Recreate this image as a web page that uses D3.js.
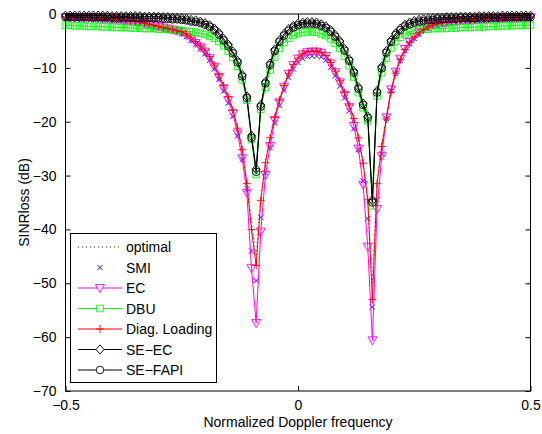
<!DOCTYPE html>
<html>
<head>
<meta charset="utf-8">
<script src="https://cdn.jsdelivr.net/npm/d3@7"></script>
<style>
    body { margin: 0; background: #fff; }
    text { font-family: "Liberation Sans", Arial, sans-serif; fill: #000; }
</style>
</head>
<body>
<svg id="chart" width="542" height="434"></svg>
<script>
// normalized Doppler sampling grid, -0.5 .. 0.5 step 0.01
const freq = d3.range(101).map(i => -0.5 + i * 0.01);

const optimal = [
  -0.5,-0.5,-0.5,-0.6,-0.6,-0.6,-0.7,-0.7,-0.8,-0.8,
  -0.9,-0.9,-1.0,-1.1,-1.2,-1.3,-1.4,-1.6,-1.8,-2.0,
  -2.2,-2.4,-2.6,-2.8,-3.0,-3.2,-3.6,-4.2,-5.0,-5.8,
  -6.6,-7.8,-9.4,-11.2,-13.2,-15.3,-17.7,-21.0,-25.0,-31.0,
  -39.0,-45.0,-34.0,-27.2,-22.8,-19.0,-15.8,-13.1,-10.8,-9.2,
  -8.0,-7.2,-6.8,-6.7,-6.7,-6.9,-7.5,-8.8,-10.4,-12.2,
  -14.4,-16.7,-19.2,-22.7,-27.3,-34.0,-50.0,-31.0,-24.2,-19.2,
  -14.3,-10.8,-8.3,-6.4,-5.1,-4.1,-3.3,-2.7,-2.2,-1.9,
  -1.7,-1.5,-1.4,-1.3,-1.2,-1.1,-1.0,-1.0,-0.9,-0.9,
  -0.8,-0.8,-0.7,-0.7,-0.7,-0.6,-0.6,-0.6,-0.5,-0.5,-0.5
];
const smi = [
  -0.8,-0.8,-0.8,-0.9,-0.9,-0.9,-1.0,-1.0,-1.1,-1.1,
  -1.2,-1.2,-1.3,-1.4,-1.5,-1.6,-1.7,-1.9,-2.1,-2.3,
  -2.5,-2.7,-2.9,-3.1,-3.4,-3.7,-4.2,-4.9,-5.7,-6.5,
  -7.4,-8.6,-10.2,-12.1,-14.3,-16.5,-19.0,-22.6,-27.0,-32.5,
  -44.0,-49.5,-37.8,-29.5,-24.8,-20.2,-17.0,-14.2,-11.8,-10.2,
  -9.0,-8.3,-7.9,-7.8,-7.8,-8.0,-8.6,-9.9,-11.5,-13.4,
  -15.6,-18.0,-21.3,-25.2,-31.0,-38.0,-54.4,-34.5,-26.0,-19.4,
  -14.3,-11.0,-8.6,-6.8,-5.5,-4.5,-3.7,-3.1,-2.6,-2.3,
  -2.1,-1.9,-1.8,-1.7,-1.6,-1.5,-1.4,-1.4,-1.3,-1.3,
  -1.2,-1.2,-1.1,-1.1,-1.1,-1.0,-1.0,-1.0,-0.9,-0.9,-0.9
];
const ec = [
  -0.6,-0.6,-0.6,-0.7,-0.7,-0.7,-0.8,-0.8,-0.9,-0.9,
  -1.0,-1.0,-1.1,-1.2,-1.3,-1.4,-1.5,-1.7,-1.9,-2.1,
  -2.3,-2.5,-2.7,-2.9,-3.1,-3.4,-3.9,-4.6,-5.4,-6.2,
  -7.0,-8.2,-9.8,-11.7,-13.8,-16.0,-18.5,-22.2,-26.8,-33.2,
  -47.2,-57.4,-40.4,-29.9,-24.5,-19.7,-16.4,-13.5,-11.1,-9.5,
  -8.3,-7.5,-7.1,-7.0,-7.0,-7.2,-7.8,-9.2,-10.8,-12.7,
  -15.0,-17.3,-20.8,-25.0,-31.7,-43.2,-60.6,-36.2,-26.4,-19.2,
  -14.0,-10.7,-8.3,-6.5,-5.2,-4.2,-3.4,-2.8,-2.3,-2.0,
  -1.8,-1.6,-1.5,-1.4,-1.3,-1.2,-1.1,-1.1,-1.0,-1.0,
  -0.9,-0.9,-0.8,-0.8,-0.8,-0.7,-0.7,-0.7,-0.6,-0.6,-0.6
];
const dbu = [
  -2.1,-2.1,-2.2,-2.2,-2.2,-2.3,-2.3,-2.3,-2.4,-2.4,
  -2.4,-2.5,-2.5,-2.5,-2.6,-2.6,-2.6,-2.7,-2.7,-2.7,
  -2.8,-2.8,-2.9,-2.9,-3.0,-3.1,-3.2,-3.3,-3.4,-3.6,
  -3.8,-4.1,-4.5,-5.1,-5.9,-6.9,-8.1,-9.7,-12.2,-16.0,
  -23.3,-29.8,-17.7,-13.6,-10.4,-8.0,-6.4,-5.3,-4.5,-3.9,
  -3.6,-3.4,-3.3,-3.3,-3.4,-3.7,-4.0,-4.6,-5.4,-6.4,
  -7.8,-9.6,-11.7,-14.6,-17.4,-19.8,-35.6,-15.2,-10.9,-8.2,
  -6.3,-5.1,-4.3,-3.7,-3.3,-3.1,-2.9,-2.8,-2.8,-2.7,
  -2.7,-2.7,-2.6,-2.6,-2.6,-2.5,-2.5,-2.5,-2.4,-2.4,
  -2.4,-2.3,-2.3,-2.3,-2.2,-2.2,-2.2,-2.1,-2.1,-2.1,-2.1
];
const diagLoading = [
  -0.6,-0.6,-0.6,-0.7,-0.7,-0.7,-0.8,-0.8,-0.9,-0.9,
  -1.0,-1.0,-1.1,-1.2,-1.3,-1.4,-1.5,-1.7,-1.9,-2.1,
  -2.3,-2.5,-2.7,-2.9,-3.1,-3.3,-3.7,-4.3,-5.1,-5.9,
  -6.7,-7.9,-9.5,-11.3,-13.3,-15.4,-17.8,-21.2,-25.2,-31.5,
  -40.0,-46.7,-34.6,-27.6,-23.0,-19.2,-16.0,-13.3,-11.0,-9.4,
  -8.2,-7.4,-7.0,-6.9,-6.9,-7.1,-7.7,-9.0,-10.6,-12.4,
  -14.6,-16.9,-19.4,-23.0,-27.7,-34.5,-53.0,-31.5,-24.6,-19.5,
  -14.5,-11.0,-8.5,-6.6,-5.3,-4.3,-3.5,-2.9,-2.4,-2.1,
  -1.8,-1.6,-1.5,-1.4,-1.3,-1.2,-1.1,-1.1,-1.0,-1.0,
  -0.9,-0.9,-0.8,-0.8,-0.8,-0.7,-0.7,-0.7,-0.6,-0.6,-0.6
];
const seEc = [
  -0.3,-0.3,-0.3,-0.3,-0.3,-0.3,-0.3,-0.3,-0.3,-0.3,
  -0.4,-0.4,-0.4,-0.4,-0.4,-0.4,-0.4,-0.5,-0.5,-0.5,
  -0.5,-0.6,-0.6,-0.7,-0.7,-0.8,-0.9,-1.1,-1.2,-1.4,
  -1.7,-2.1,-2.7,-3.5,-4.6,-5.7,-7.0,-8.7,-11.3,-15.3,
  -22.6,-28.8,-16.9,-12.6,-9.2,-6.6,-4.9,-3.7,-2.8,-2.2,
  -1.8,-1.6,-1.5,-1.5,-1.6,-1.9,-2.3,-3.0,-3.9,-5.0,
  -6.5,-8.4,-10.6,-13.6,-16.6,-19.0,-34.6,-14.3,-9.8,-6.9,
  -4.9,-3.6,-2.7,-2.0,-1.6,-1.3,-1.1,-1.0,-0.9,-0.8,
  -0.7,-0.7,-0.6,-0.6,-0.6,-0.5,-0.5,-0.5,-0.5,-0.4,
  -0.4,-0.4,-0.4,-0.4,-0.3,-0.3,-0.3,-0.3,-0.3,-0.3,-0.3
];
const seFapi = [
  -0.6,-0.6,-0.6,-0.6,-0.6,-0.6,-0.6,-0.6,-0.6,-0.6,
  -0.7,-0.7,-0.7,-0.7,-0.7,-0.7,-0.7,-0.8,-0.8,-0.8,
  -0.8,-0.9,-0.9,-1.0,-1.0,-1.1,-1.2,-1.4,-1.5,-1.7,
  -2.0,-2.4,-3.0,-3.8,-4.9,-6.0,-7.3,-9.0,-11.6,-15.6,
  -23.0,-29.3,-17.2,-12.9,-9.5,-6.9,-5.2,-4.0,-3.1,-2.5,
  -2.1,-1.9,-1.8,-1.8,-1.9,-2.2,-2.6,-3.3,-4.2,-5.3,
  -6.8,-8.7,-10.9,-13.9,-16.9,-19.3,-35.0,-14.6,-10.1,-7.2,
  -5.2,-3.9,-3.0,-2.3,-1.9,-1.6,-1.4,-1.3,-1.2,-1.1,
  -1.0,-1.0,-0.9,-0.9,-0.9,-0.8,-0.8,-0.8,-0.8,-0.7,
  -0.7,-0.7,-0.7,-0.7,-0.6,-0.6,-0.6,-0.6,-0.6,-0.6,-0.6
];

const xTicks = [-0.5, 0, 0.5];
const yTicks = [0, -10, -20, -30, -40, -50, -60, -70];

// plot order = legend order
let series = [
    {name: "optimal", values: optimal, color: "#000", line: true, dash: "1,3", marker: null},
    {name: "SMI", values: smi, color: "#0000ff", line: false, marker: "x"},
    {name: "EC", values: ec, color: "#ff00ff", line: true, marker: "tri"},
    {name: "DBU", values: dbu, color: "#00ff00", line: true, marker: "sq"},
    {name: "Diag. Loading", values: diagLoading, color: "#ff0000", line: true, marker: "plus"},
    {name: "SE\u2212EC", values: seEc, color: "#000", line: true, marker: "dia"},
    {name: "SE\u2212FAPI", values: seFapi, color: "#000", line: true, marker: "circ"}
];

let svg = d3.select("#chart");
let pLeft = 65.5, pRight = 530.5, pTop = 14, pBottom = 391;

let x = d3.scaleLinear().domain([-0.5, 0.5]).range([pLeft, pRight]);
let y = d3.scaleLinear().domain([-70, 0]).range([pBottom, pTop]);

function markerPath(type){
    switch(type){
        case "tri": return "M-4.5,-3.5L4.5,-3.5L0,4.5Z";
        case "sq": return "M-3.3,-3.3h6.6v6.6h-6.6Z";
        case "plus": return "M-4,0H4M0,-4V4";
        case "x": return "M-2.6,-2.6L2.6,2.6M-2.6,2.6L2.6,-2.6";
        case "dia": return "M0,-4.6L4,0L0,4.6L-4,0Z";
        case "circ": return "M3.8,0A3.8,3.8 0 1,1 -3.8,0A3.8,3.8 0 1,1 3.8,0Z";
    }
    return "";
}

let plot = svg.append("g");
let line = d3.line().x((d, i) => x(freq[i])).y(d => y(d));

for (let s of series){
    let g = plot.append("g");
    if (s.line){
        g.append("path")
            .attr("d", line(s.values))
            .attr("fill", "none")
            .attr("stroke", s.color)
            .attr("stroke-width", s.dash ? 0.8 : 1)
            .attr("stroke-dasharray", s.dash || null);
    }
    if (s.marker){
        g.selectAll("path.m")
            .data(s.values)
            .enter()
            .append("path")
            .attr("class", "m")
            .attr("d", markerPath(s.marker))
            .attr("transform", (d, i) => `translate(${x(freq[i])},${y(d)})`)
            .attr("fill", "none")
            .attr("stroke", s.color)
            .attr("stroke-width", 0.9);
    }
}

// axes box with inward ticks on all four sides
let frame = svg.append("g");
frame.append("rect")
    .attr("x", pLeft).attr("y", pTop)
    .attr("width", pRight - pLeft).attr("height", pBottom - pTop)
    .attr("fill", "none").attr("stroke", "#000").attr("stroke-width", 1);

frame.append("g")
    .attr("transform", `translate(0,${pBottom})`)
    .call(d3.axisBottom(x).tickValues(xTicks).tickSizeInner(-5).tickSizeOuter(0).tickPadding(9).tickFormat(d3.format("")))
    .call(g => g.select(".domain").remove());
frame.append("g")
    .attr("transform", `translate(0,${pTop})`)
    .call(d3.axisTop(x).tickValues(xTicks).tickSizeInner(-5).tickSizeOuter(0).tickFormat(""))
    .call(g => g.select(".domain").remove());
frame.append("g")
    .attr("transform", `translate(${pLeft},0)`)
    .call(d3.axisLeft(y).tickValues(yTicks).tickSizeInner(-5).tickSizeOuter(0).tickPadding(9))
    .call(g => g.select(".domain").remove());
frame.append("g")
    .attr("transform", `translate(${pRight},0)`)
    .call(d3.axisRight(y).tickValues(yTicks).tickSizeInner(-5).tickSizeOuter(0).tickFormat(""))
    .call(g => g.select(".domain").remove());

frame.selectAll(".tick text")
    .attr("font-family", "Liberation Sans, Arial, sans-serif")
    .attr("font-size", 14);

svg.append("text")
    .attr("x", (pLeft + pRight) / 2).attr("y", 427)
    .attr("text-anchor", "middle")
    .attr("font-size", 14)
    .text("Normalized Doppler frequency");

svg.append("text")
    .attr("transform", `translate(29,${(pTop + pBottom) / 2}) rotate(-90)`)
    .attr("text-anchor", "middle")
    .attr("font-size", 14)
    .text("SINRloss (dB)");

// legend
let legend = svg.append("g");
legend.append("rect")
    .attr("x", 70.5).attr("y", 233.5)
    .attr("width", 146).attr("height", 149)
    .attr("fill", "#fff").attr("stroke", "#000").attr("stroke-width", 1);

let rowY = d3.scaleLinear().domain([0, series.length - 1]).range([247, 370]);
series.forEach((s, i) => {
    let ly = rowY(i);
    if (s.line){
        legend.append("line")
            .attr("x1", 78).attr("x2", 122)
            .attr("y1", ly).attr("y2", ly)
            .attr("stroke", s.color)
            .attr("stroke-width", s.dash ? 0.8 : 1)
            .attr("stroke-dasharray", s.dash || null);
    }
    if (s.marker){
        legend.append("path")
            .attr("d", markerPath(s.marker))
            .attr("transform", `translate(100,${ly})`)
            .attr("fill", s.marker == "plus" || s.marker == "x" ? "none" : "#fff")
            .attr("stroke", s.color)
            .attr("stroke-width", 0.9);
    }
    legend.append("text")
        .attr("x", 126).attr("y", ly + 5)
        .attr("font-size", 14)
        .text(s.name);
});
</script>
</body>
</html>
